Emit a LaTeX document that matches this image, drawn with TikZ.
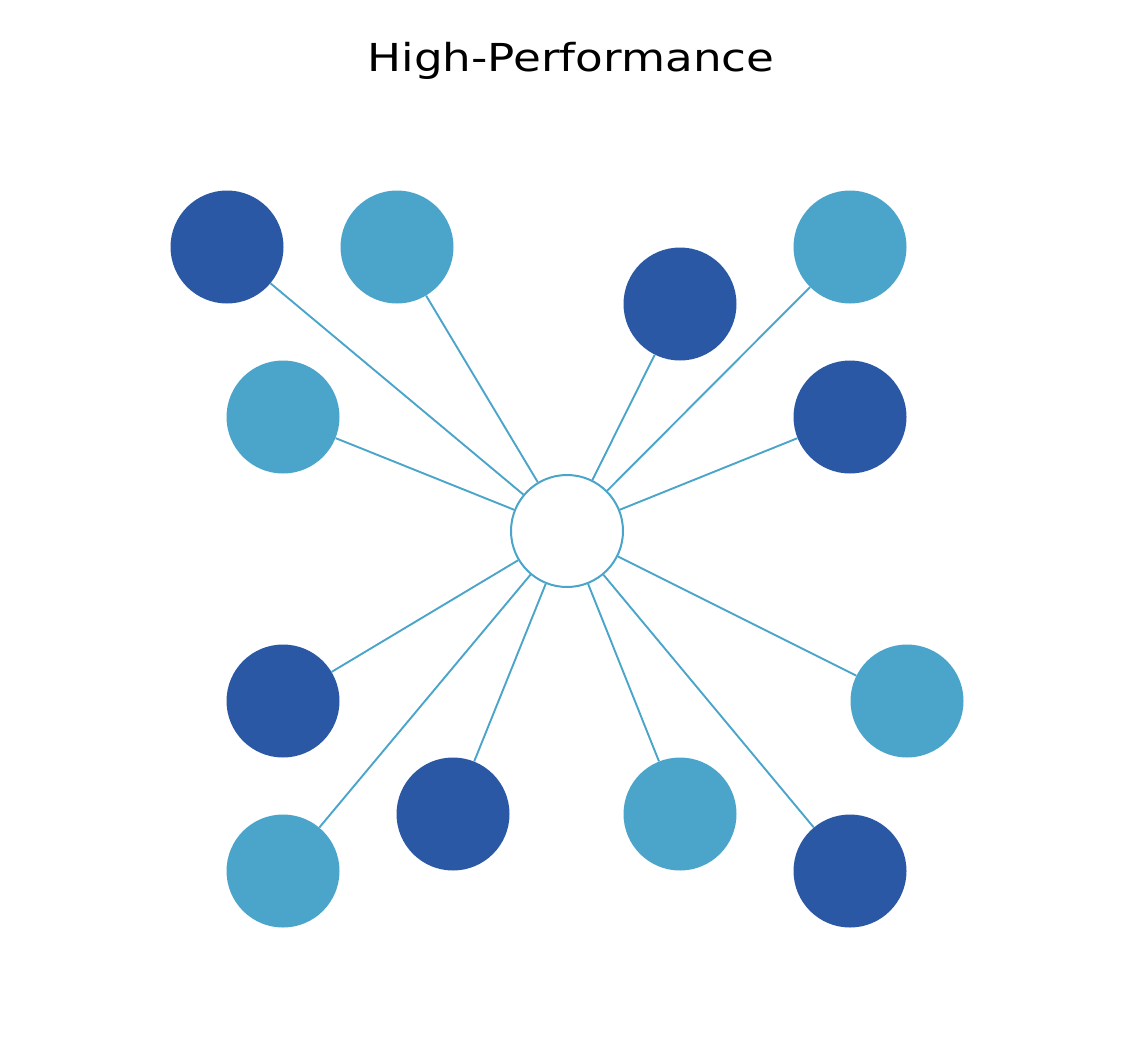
\documentclass[tikz,border=0pt]{standalone}
\usepackage{fontspec}
\setmainfont{DejaVu Sans}
\definecolor{darkb}{HTML}{2B58A5}
\definecolor{lightb}{HTML}{4BA4CA}
\begin{document}
\begin{tikzpicture}[x=1pt,y=-1pt,
  outer/.style={circle,minimum size=113pt,inner sep=0pt,draw=none},
  dk/.style={outer,fill=darkb},
  lt/.style={outer,fill=lightb},
  hub/.style={circle,minimum size=112pt,inner sep=0pt,draw=lightb,line width=2pt,fill=white},
  link/.style={draw=lightb,line width=1.9pt}]
\useasboundingbox (0,0) rectangle (1134,1049);
\node[anchor=base,font=\fontsize{38.5}{44}\selectfont] (title) at (571,71) {\scalebox{1.175}[1]{High-Performance}};
\node[hub] (c) at (567,531) {};
\node[dk] (n1) at (227,247) {};
\node[lt] (n2) at (397,247) {};
\node[dk] (n3) at (680,304) {};
\node[lt] (n4) at (850,247) {};
\node[lt] (n5) at (283,417) {};
\node[dk] (n6) at (850,417) {};
\node[dk] (n7) at (283,701) {};
\node[lt] (n8) at (907,701) {};
\node[lt] (n9) at (283,871) {};
\node[dk] (n10) at (453,814) {};
\node[lt] (n11) at (680,814) {};
\node[dk] (n12) at (850,871) {};
\foreach \i in {1,...,12} {\draw[link] (c) -- (n\i);}
\end{tikzpicture}
\end{document}
